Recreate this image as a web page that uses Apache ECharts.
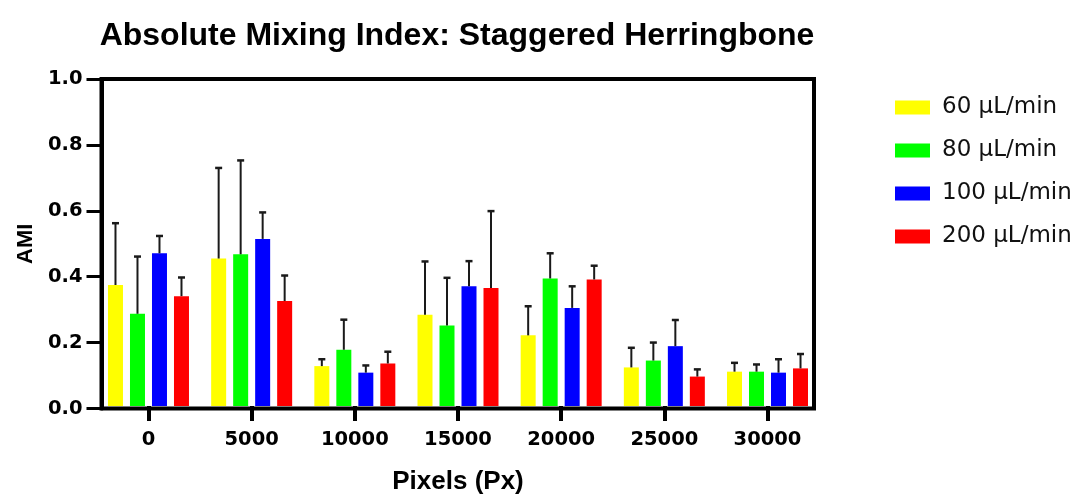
<!DOCTYPE html>
<html>
<head>
<meta charset="utf-8">
<script src="https://cdn.jsdelivr.net/npm/echarts@6/dist/echarts.min.js"></script>
<style>
  html, body { margin: 0; padding: 0; background: #fff; }
  #chart { width: 1083px; height: 500px; }
</style>
</head>
<body>
<div id="chart"></div>
<script>
// Pixel position along the channel (x categories)
const categories = ['0', '5000', '10000', '15000', '20000', '25000', '30000'];

// Flow rates shown as series
const seriesNames = ['60 µL/min', '80 µL/min', '100 µL/min', '200 µL/min'];

// Mean absolute mixing index per flow rate
const ami60  = [0.370, 0.451, 0.122, 0.279, 0.216, 0.118, 0.105];
const ami80  = [0.282, 0.464, 0.172, 0.246, 0.390, 0.139, 0.105];
const ami100 = [0.467, 0.511, 0.102, 0.366, 0.300, 0.183, 0.102];
const ami200 = [0.336, 0.321, 0.130, 0.361, 0.387, 0.090, 0.115];

// Standard deviation (upper error bar) per flow rate
const sd60  = [0.189, 0.277, 0.021, 0.163, 0.089, 0.060, 0.027];
const sd80  = [0.175, 0.287, 0.092, 0.146, 0.077, 0.055, 0.022];
const sd100 = [0.053, 0.081, 0.022, 0.077, 0.066, 0.080, 0.041];
const sd200 = [0.057, 0.078, 0.036, 0.235, 0.042, 0.022, 0.044];

// Y axis ticks
const yTicks = { min: 0, max: 1, interval: 0.2 };

const means = [ami60, ami80, ami100, ami200];
const sds = [sd60, sd80, sd100, sd200];
const colors = ['#ffff00', '#00ff00', '#0000ff', '#ff0000'];

const BAR_W = 15;
const BAR_STEP = 22;   // bar width + gap between bars in a group
const SANS = 'Liberation Sans, Arial, sans-serif';
const WIDE = 'DejaVu Sans, Verdana, sans-serif';

const barSeries = means.map((vals, i) => ({
  name: seriesNames[i],
  type: 'bar',
  xAxisIndex: 0,
  yAxisIndex: 1,
  data: vals,
  barWidth: BAR_W,
  barGap: ((BAR_STEP - BAR_W) / BAR_W * 100) + '%',
  itemStyle: { color: colors[i] },
  z: 2
}));

// Upper-only error bars with a small cap
const errorSeries = means.map((vals, i) => ({
  name: seriesNames[i] + ' SD',
  type: 'custom',
  xAxisIndex: 0,
  yAxisIndex: 1,
  data: vals.map((v, k) => [k, v, sds[i][k]]),
  encode: { x: 0, y: 1 },
  z: 3,
  silent: true,
  renderItem: function (params, api) {
    const k = api.value(0);
    const base = api.coord([k, api.value(1)]);
    const top = api.coord([k, api.value(1) + api.value(2)]);
    const x = base[0] + (i - 1.5) * BAR_STEP;
    const cap = 3.5;
    return {
      type: 'group',
      children: [
        { type: 'line', shape: { x1: x, y1: base[1], x2: x, y2: top[1] }, style: { stroke: '#1a1a1a', lineWidth: 2 } },
        { type: 'line', shape: { x1: x - cap, y1: top[1], x2: x + cap, y2: top[1] }, style: { stroke: '#1a1a1a', lineWidth: 2.5 } }
      ]
    };
  }
}));

const chart = echarts.init(document.getElementById('chart'));
chart.setOption({
  animation: false,
  backgroundColor: '#ffffff',
  title: {
    text: 'Absolute Mixing Index: Staggered Herringbone',
    left: 452,
    top: 15,
    textAlign: 'center',
    textStyle: { fontFamily: SANS, fontWeight: 'bold', fontSize: 32, color: '#000' }
  },
  legend: {
    orient: 'vertical',
    left: 890,
    top: 89,
    itemWidth: 35,
    itemHeight: 14,
    itemGap: 16,
    icon: 'rect',
    data: seriesNames,
    textStyle: { fontFamily: WIDE, fontSize: 23, lineHeight: 27, color: '#111', padding: [0, 0, 0, 7] }
  },
  grid: [
    // bars: category bands
    { left: 96.9, top: 79, width: 722.2, height: 329 },
    // plot frame
    { left: 101.5, top: 79, width: 712.5, height: 329.5, show: true, borderColor: '#000', borderWidth: 4, backgroundColor: 'transparent' }
  ],
  xAxis: [
    {
      type: 'category',
      gridIndex: 0,
      data: categories,
      name: 'Pixels (Px)',
      nameLocation: 'middle',
      nameGap: 63,
      nameTextStyle: { fontFamily: SANS, fontWeight: 'bold', fontSize: 26, color: '#000' },
      axisLine: { show: false },
      axisTick: { show: true, alignWithLabel: true, length: 15, lineStyle: { color: '#000', width: 4 } },
      axisLabel: { margin: 24, fontFamily: WIDE, fontWeight: 'bold', fontSize: 19.5, color: '#000' },
      splitLine: { show: false }
    },
    { type: 'value', gridIndex: 1, show: false, min: 0, max: 1 }
  ],
  yAxis: [
    {
      type: 'value',
      gridIndex: 1,
      min: yTicks.min,
      max: yTicks.max,
      interval: yTicks.interval,
      name: 'AMI',
      nameLocation: 'middle',
      nameGap: 65,
      nameTextStyle: { fontFamily: SANS, fontWeight: 'bold', fontSize: 22, color: '#000' },
      axisLine: { show: true, lineStyle: { color: '#000', width: 4 } },
      axisTick: { show: true, length: 15, lineStyle: { color: '#000', width: 3 } },
      axisLabel: {
        margin: 19,
        fontFamily: WIDE, fontWeight: 'bold', fontSize: 19.5, color: '#000',
        formatter: v => v.toFixed(1)
      },
      splitLine: { show: false }
    },
    { type: 'value', gridIndex: 0, show: false, min: yTicks.min, max: yTicks.max }
  ],
  series: barSeries.concat(errorSeries)
});
</script>
</body>
</html>
